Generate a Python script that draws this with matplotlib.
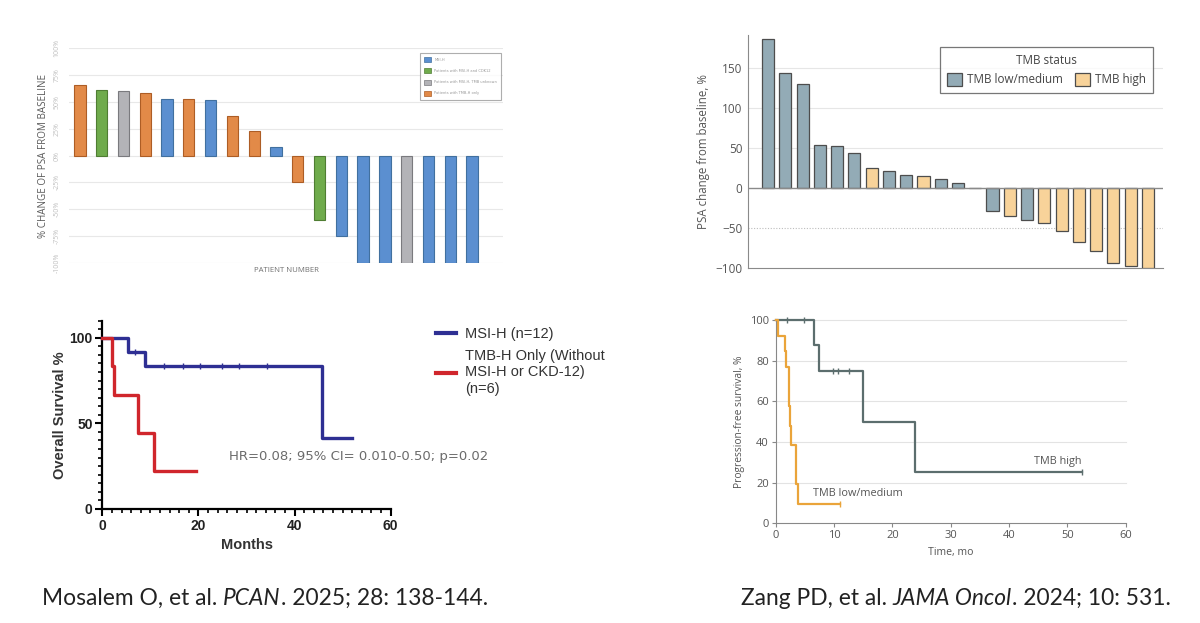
import numpy as np
import matplotlib
matplotlib.use("Agg")
import matplotlib.pyplot as plt
from matplotlib.patches import Patch
from matplotlib.lines import Line2D
from matplotlib.ticker import MultipleLocator

# ---- top left: PSA waterfall (Mosalem) ----
tl_change = [65.6, 61, 60, 58, 52.5, 52.5, 51.5, 36.5, 23, 8,
             -24.7, -60, -75, -100, -100, -100, -100, -100, -100]
tl_group = [3, 1, 2, 3, 0, 3, 0, 3, 3, 0, 3, 1, 0, 0, 0, 2, 0, 0, 0]
tl_names = ["MSI-H", "Patients with MSI-H and CDK12",
            "Patients with MSI-H, TMB unknown", "Patients with TMB-H only"]
tl_fill = ["#5b8fd0", "#6fab4c", "#b3b3b7", "#e28a48"]
tl_edge = ["#41709f", "#4f7d33", "#7a7a7e", "#ad5d25"]
tl_yticks = [100, 75, 50, 25, 0, -25, -50, -75, -100]

# ---- top right: PSA waterfall (Zang) ----
tr_change = [186, 143, 130, 53.6, 52.3, 44, 25.3, 21, 16, 15, 11.6, 5.8, 0,
             -29, -35, -40, -43, -53, -67, -79, -94, -97, -100]
tr_group = [0, 0, 0, 0, 0, 0, 1, 0, 0, 1, 0, 0, 0,
            0, 1, 0, 1, 1, 1, 1, 1, 1, 1]
tr_names = ["TMB low/medium", "TMB high"]
tr_fill = ["#93abb6", "#f8d39a"]

# ---- bottom left: overall survival (Mosalem) ----
msi_t = [0, 5.3, 8.8, 45.7, 52]
msi_s = [100, 91.7, 83.3, 41.7, 41.7]
msi_cens_t = [6.8, 12.8, 16.8, 20.3, 24.9, 28.4, 34.2]
tmb_t = [0, 2.1, 2.4, 7.4, 10.8, 19.5]
tmb_s = [100, 83.3, 66.7, 44.4, 22.2, 22.2]

# ---- bottom right: progression-free survival (Zang) ----
high_t = [0, 6.5, 7.4, 14.9, 23.9, 52.5]
high_s = [100, 87.5, 75, 50, 25, 25]
high_cens_t = [1.9, 4.9, 9.8, 10.6, 12.5, 52.5]
low_t = [0, 0.4, 1.6, 1.7, 2.3, 2.5, 2.6, 3.4, 3.5, 3.8, 11.1]
low_s = [100, 92.3, 84.6, 76.9, 57.7, 48.1, 38.5, 28.8, 19.2, 9.6, 9.6]
low_cens_t = [11.1]


def step_level(ts, ss, t):
    i = np.searchsorted(ts, t, side="right") - 1
    return ss[i]


fig = plt.figure(figsize=(12, 6.23), dpi=100)
W, H = 1200.0, 623.0


def px_axes(left, top, right, bottom):
    return fig.add_axes([left / W, 1 - bottom / H, (right - left) / W, (bottom - top) / H])


# ================= top left =================
ax1 = px_axes(69, 48, 503, 263)
x1 = np.arange(len(tl_change))
ax1.bar(x1, tl_change, width=0.52,
        color=[tl_fill[g] for g in tl_group],
        edgecolor=[tl_edge[g] for g in tl_group], linewidth=0.8, zorder=3)
ax1.set_xlim(-0.5, 19.42)
ax1.set_ylim(-100, 100)
ax1.set_yticks(tl_yticks)
ax1.set_yticklabels([f"{v}%" for v in tl_yticks], rotation=90, va="center",
                    fontsize=5, color="#c0c0c0", family="Open Sans")
ax1.tick_params(axis="y", length=0, pad=6)
ax1.set_xticks([])
ax1.grid(axis="y", color="#e8e8e8", lw=0.8, zorder=0)
for s in ax1.spines.values():
    s.set_visible(False)
ax1.set_ylabel("% CHANGE OF PSA FROM BASELINE", fontsize=7.1, color="#5a5a5a",
               family="Open Sans", labelpad=3)
ax1.text(0.5, -0.02, "PATIENT NUMBER", transform=ax1.transAxes, ha="center",
         va="top", fontsize=5.6, color="#707070", family="Open Sans")
tl_handles = [Patch(facecolor=tl_fill[i], edgecolor=tl_edge[i], lw=0.5)
              for i in range(4)]
leg1 = ax1.legend(tl_handles, tl_names, loc="upper right",
                  bbox_to_anchor=(1.0, 0.985), fontsize=2.6, frameon=True,
                  fancybox=False, handlelength=1.8, handleheight=1.8,
                  labelspacing=1.7, borderpad=1.1, handletextpad=1.0)
leg1.get_frame().set_edgecolor("#9a9a9a")
leg1.get_frame().set_linewidth(0.8)
for t in leg1.get_texts():
    t.set_color("#999999")

# ================= top right =================
ax2 = px_axes(748, 35, 1163, 268.2)
x2 = np.arange(len(tr_change))
ax2.bar(x2, tr_change, width=0.7, color=[tr_fill[g] for g in tr_group],
        edgecolor="#4d4d4d", linewidth=0.9, zorder=3)
ax2.set_xlim(-1.16, 22.87)
ax2.set_ylim(-100, 191)
ax2.set_yticks([-100, -50, 0, 50, 100, 150])
ax2.tick_params(axis="y", length=0, labelsize=8.5, labelcolor="#555555", pad=4)
ax2.set_xticks([])
for y in [50, 100, 150]:
    ax2.axhline(y, color="#e6e6e6", lw=0.8, zorder=0)
ax2.axhline(-50, color="#bdbdbd", lw=0.8, ls=(0, (1, 1.5)), zorder=0)
ax2.axhline(0, color="#8a8a8a", lw=1.0, zorder=4)
for s in ["top", "right"]:
    ax2.spines[s].set_visible(False)
ax2.spines["left"].set_color("#8a8a8a")
ax2.spines["bottom"].set_color("#8a8a8a")
for lab in ax2.get_yticklabels():
    lab.set_family("Open Sans")
ax2.set_ylabel("PSA change from baseline, %", fontsize=8.3, color="#555555",
               family="Open Sans", labelpad=4)
tr_handles = [Patch(facecolor=tr_fill[i], edgecolor="#4d4d4d", lw=0.9)
              for i in range(2)]
leg2 = ax2.legend(tr_handles, tr_names, title="TMB status", ncol=2,
                  loc="upper right", bbox_to_anchor=(0.976, 0.9485),
                  borderaxespad=0,
                  frameon=True, fancybox=False, prop={"family": "Open Sans", "size": 8.4},
                  title_fontproperties={"family": "Open Sans", "size": 8.4},
                  handlelength=1.3, handleheight=1.3, columnspacing=1.1,
                  handletextpad=0.4, borderpad=0.6)
leg2.get_frame().set_edgecolor("#555555")
leg2.get_frame().set_linewidth(0.9)
for t in leg2.get_texts():
    t.set_color("#444444")
leg2.get_title().set_color("#444444")

# ================= bottom left =================
ax3 = px_axes(102.3, 320.6, 390.7, 509)
ax3.step(msi_t, msi_s, where="post", color="#2e2f93", lw=2.4, zorder=3,
         clip_on=False)
ax3.step(tmb_t, tmb_s, where="post", color="#d0262c", lw=2.4, zorder=3,
         clip_on=False)
ax3.plot(msi_cens_t, [step_level(msi_t, msi_s, t) for t in msi_cens_t],
         ls="none", marker="|", ms=4, mew=1.0, color="#2e2f93", zorder=4)
ax3.set_xlim(0, 60)
ax3.set_ylim(0, 110)
ax3.set_xticks([0, 20, 40, 60])
ax3.set_yticks([0, 50, 100])
ax3.xaxis.set_minor_locator(MultipleLocator(2))
ax3.yaxis.set_minor_locator(MultipleLocator(5))
ax3.tick_params(which="major", length=5, width=1.5, labelsize=10, pad=2)
ax3.tick_params(which="minor", length=3, width=1.2)
for s in ["top", "right"]:
    ax3.spines[s].set_visible(False)
for s in ["left", "bottom"]:
    ax3.spines[s].set_linewidth(1.6)
for lab in ax3.get_xticklabels() + ax3.get_yticklabels():
    lab.set_fontweight("bold")
    lab.set_family("Liberation Sans")
    lab.set_color("#222222")
ax3.set_ylabel("Overall Survival %", fontsize=10.5, fontweight="bold",
               family="Liberation Sans", color="#333333", labelpad=2)
ax3.set_xlabel("Months", fontsize=10.5, fontweight="bold",
               family="Liberation Sans", color="#333333", labelpad=4)
ax3.text(26.4, 30.4, "HR=0.08; 95% CI= 0.010-0.50; p=0.02", fontsize=9.5,
         color="#6b6b6b", va="center", ha="left", clip_on=False)
km_handles = [Line2D([], [], color="#2e2f93", lw=3),
              Line2D([], [], color="#d0262c", lw=3)]
leg3 = fig.legend(km_handles,
                  ["MSI-H (n=12)", "TMB-H Only (Without\nMSI-H or CKD-12)\n(n=6)"],
                  loc="upper left", bbox_to_anchor=(426 / W, 1 - 317 / H),
                  frameon=False, prop={"family": "Liberation Sans", "size": 10.5},
                  handlelength=1.35, handletextpad=0.65, labelspacing=0.55,
                  borderpad=0.2)
for t in leg3.get_texts():
    t.set_color("#333333")

# ================= bottom right =================
ax4 = px_axes(775.7, 320, 1125.7, 523.3)
for y in [20, 40, 60, 80, 100]:
    ax4.axhline(y, color="#e3e3e3", lw=0.8, zorder=0, clip_on=False)
ax4.step(high_t, high_s, where="post", color="#5c6e6e", lw=1.6, zorder=3,
         clip_on=False)
ax4.step(low_t, low_s, where="post", color="#eaa43a", lw=1.6, zorder=3,
         clip_on=False)
ax4.plot(high_cens_t, [step_level(high_t, high_s, t) for t in high_cens_t],
         ls="none", marker="|", ms=4, mew=1.0, color="#5c6e6e", zorder=4,
         clip_on=False)
ax4.plot(low_cens_t, [step_level(low_t, low_s, t) for t in low_cens_t],
         ls="none", marker="|", ms=4, mew=1.0, color="#eaa43a", zorder=4,
         clip_on=False)
ax4.set_xlim(0, 60)
ax4.set_ylim(0, 100)
ax4.set_xticks(range(0, 61, 10))
ax4.set_yticks(range(0, 101, 20))
ax4.tick_params(length=3, width=0.8, color="#888888", labelsize=8,
                labelcolor="#555555", pad=2)
for lab in ax4.get_xticklabels() + ax4.get_yticklabels():
    lab.set_family("Open Sans")
for s in ["top", "right"]:
    ax4.spines[s].set_visible(False)
for s in ["left", "bottom"]:
    ax4.spines[s].set_color("#888888")
    ax4.spines[s].set_linewidth(0.8)
ax4.set_ylabel("Progression-free survival, %", fontsize=7.4, color="#555555",
               family="Open Sans", labelpad=3)
ax4.set_xlabel("Time, mo", fontsize=7.6, color="#555555", family="Open Sans",
               labelpad=4)
ax4.text(48.4, 30.2, "TMB high", fontsize=7.8, color="#555555",
         family="Open Sans", ha="center", va="center")
ax4.text(14.1, 14.9, "TMB low/medium", fontsize=7.8, color="#555555",
         family="Open Sans", ha="center", va="center")


# ================= citations =================
def rich_text(x, y, parts, **kw):
    renderer = fig.canvas.get_renderer()
    for s, style in parts:
        t = fig.text(x, y, s, style=style, **kw)
        bb = t.get_window_extent(renderer)
        x += bb.width / fig.bbox.width


cite_kw = dict(fontsize=16.4, family="Lato", color="#222222", va="baseline")
rich_text(42 / W, 1 - 605 / H,
          [("Mosalem O, et al.\u00a0", "normal"), ("PCAN", "italic"),
           (". 2025; 28: 138-144.", "normal")], **cite_kw)
rich_text(741 / W, 1 - 605 / H,
          [("Zang PD, et al.\u00a0", "normal"), ("JAMA Oncol", "italic"),
           (". 2024; 10: 531.", "normal")], **cite_kw)

fig.savefig("out.png", dpi=100, facecolor="white")
